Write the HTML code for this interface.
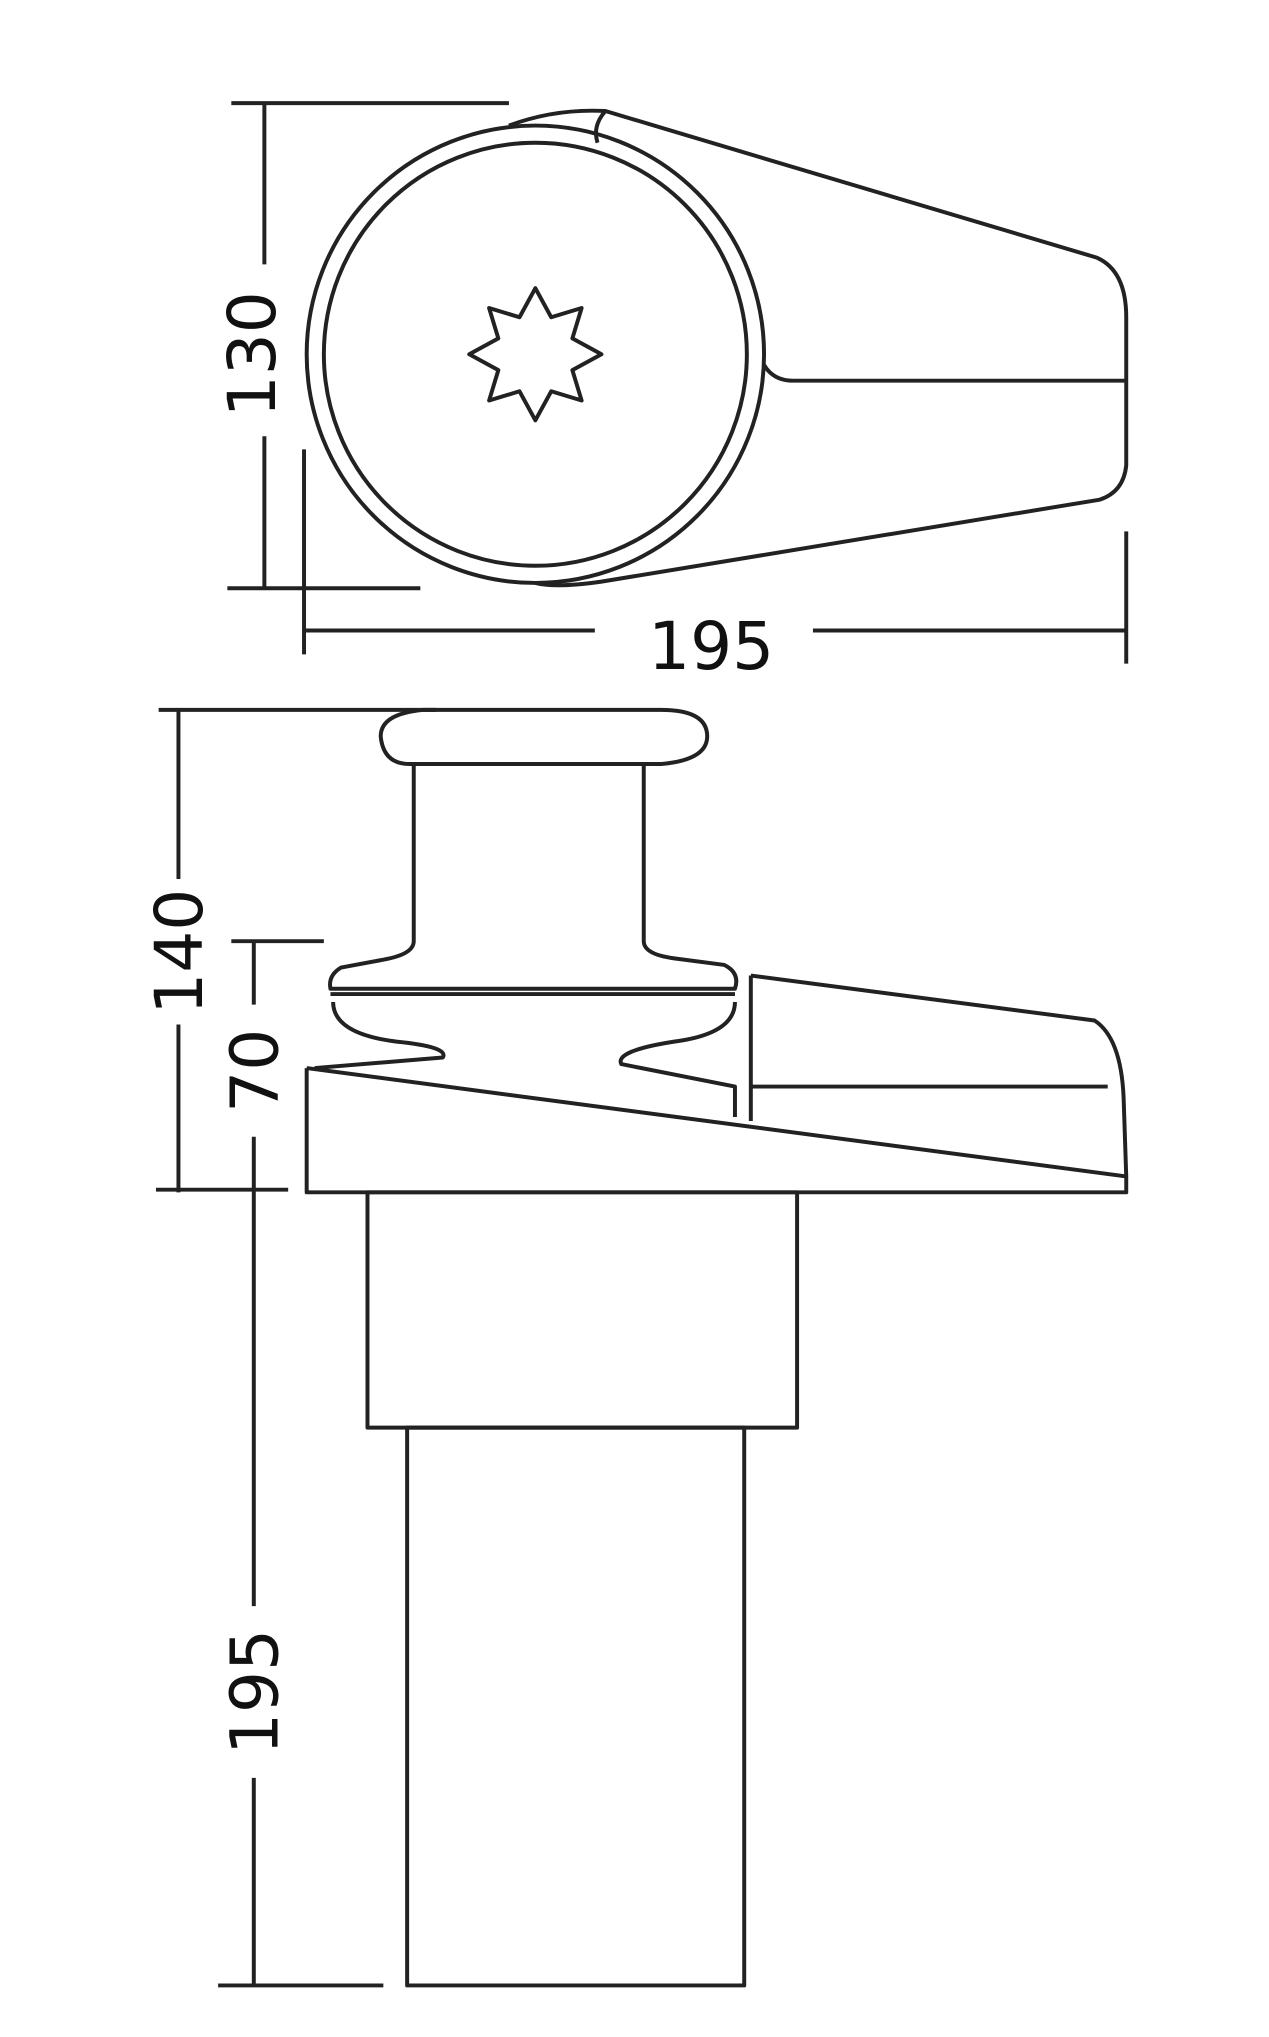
<!DOCTYPE html>
<html><head><meta charset="utf-8"><style>
html,body{margin:0;padding:0;background:#fff;}
svg{display:block;}
text{font-family:"DejaVu Sans","Liberation Sans",sans-serif;font-size:50px;fill:#111;}
</style></head><body>
<svg width="1269" height="2037" viewBox="0 0 960 1541" xmlns="http://www.w3.org/2000/svg">
<g fill="none" stroke="#222" stroke-width="3" stroke-linejoin="round">
<!-- top view dims -->
<line x1="200" y1="78" x2="200" y2="200"/><line x1="200" y1="330" x2="200" y2="445"/>
<line x1="175" y1="78" x2="385" y2="78"/>
<line x1="172" y1="445" x2="318" y2="445"/>
<line x1="230" y1="340" x2="230" y2="495"/>
<line x1="852" y1="402" x2="852" y2="502"/>
<line x1="230" y1="477" x2="450" y2="477"/><line x1="615" y1="477" x2="852" y2="477"/>
<!-- top view body -->
<path d="M385,95 Q420,82 458,84 L830,195 Q852,205 852,240 L852,352 Q850,372 832,378 L455,440 Q420,445 405,441"/>
<path d="M458,84 Q448,95 452,108"/>
<path d="M578,276 Q585,288 600,288 L852,288"/>
<circle cx="405" cy="268" r="173"/>
<circle cx="405" cy="268" r="160"/>
<polygon points="405,218 417,240 440,233 433,256 455,268 433,280 440,303 417,296 405,318 393,296 370,303 377,280 355,268 377,256 370,233 393,240"/>
<!-- side view dims -->
<line x1="135" y1="537" x2="135" y2="665"/><line x1="135" y1="775" x2="135" y2="902"/>
<line x1="120" y1="537" x2="330" y2="537"/>
<line x1="118" y1="900" x2="218" y2="900"/>
<line x1="192" y1="712" x2="192" y2="760"/><line x1="192" y1="860" x2="192" y2="1215"/><line x1="192" y1="1345" x2="192" y2="1502"/>
<line x1="175" y1="712" x2="245" y2="712"/>
<line x1="165" y1="1502" x2="290" y2="1502"/>
<!-- cap -->
<path d="M310,578 L500,578 Q535,575 535,557 Q535,537 500,537 L320,537 Q288,540 288,557 Q290,578 310,578"/>
<path d="M313,578 L313,712 Q313,722 290,726 L258,732 Q248,738 250,748 L556,748 Q560,736 548,730 L510,725 Q487,722 487,712 L487,578"/>
<line x1="250" y1="752" x2="556" y2="752"/>
<path d="M252,758 Q252,782 300,788 Q340,792 335,800 L238,808"/>
<path d="M556,758 Q556,782 510,788 Q465,795 470,805 L556,822 L556,845"/>
<!-- base -->
<path d="M232,808 L232,902 L852,902 L852,890 L232,808"/>
<path d="M568,738 L828,772 Q848,785 850,830 L852,890"/>
<line x1="568" y1="738" x2="568" y2="848"/>
<line x1="568" y1="822" x2="838" y2="822"/>
<!-- column -->
<rect x="278" y="902" width="325" height="178"/>
<rect x="308" y="1080" width="255" height="422"/>
</g>
<text x="0" y="0" text-anchor="middle" transform="translate(208,268) rotate(-90)">130</text>
<text x="538" y="506" text-anchor="middle">195</text>
<text x="0" y="0" text-anchor="middle" transform="translate(153,720) rotate(-90)">140</text>
<text x="0" y="0" text-anchor="middle" transform="translate(210,810) rotate(-90)">70</text>
<text x="0" y="0" text-anchor="middle" transform="translate(210,1280) rotate(-90)">195</text>
</svg>
</body></html>
